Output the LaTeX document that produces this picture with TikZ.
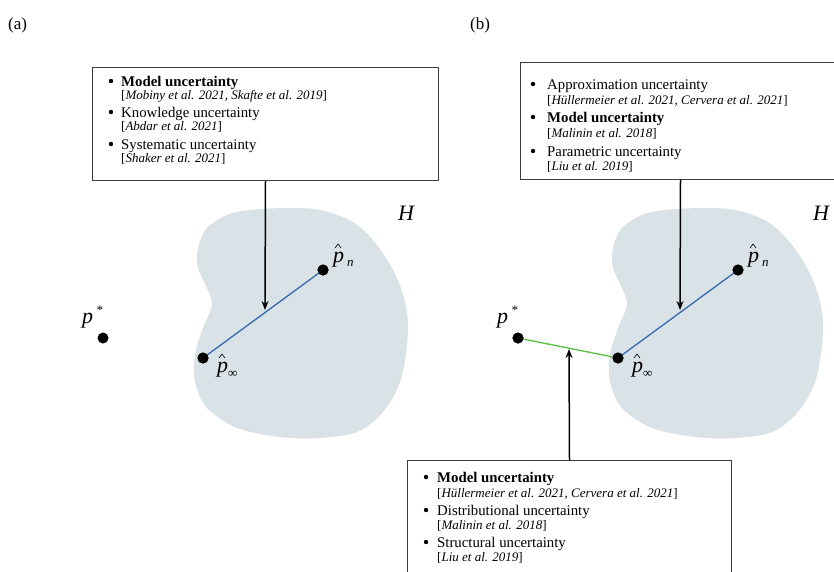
\documentclass[tikz,border=0pt]{standalone}
\usepackage{fontspec}
\setmainfont{Liberation Serif}
\usetikzlibrary{arrows.meta}
\definecolor{blobfill}{RGB}{217,226,231}
\definecolor{lineblue}{RGB}{55,105,175}
\definecolor{linegreen}{RGB}{95,190,65}
\definecolor{boxline}{RGB}{60,60,60}
\begin{document}
\begin{tikzpicture}[x=1pt,y=-1pt,
  boxnode/.style={draw=boxline, line width=1pt, fill=white, inner sep=0, anchor=north west},
  mainline/.style={anchor=base west, inner sep=0, font=\fontsize{14.8}{16}\selectfont},
  citeline/.style={anchor=base west, inner sep=0, font=\fontsize{13}{14}\selectfont},
  bul/.style={circle, fill=black, inner sep=0, minimum size=4.4pt},
  dotnode/.style={circle, fill=black, inner sep=0, minimum size=11pt},
  mathlbl/.style={anchor=base west, inner sep=0, font=\fontsize{22}{24}\selectfont\itshape},
  sublbl/.style={anchor=base west, inner sep=0, font=\fontsize{13}{14}\selectfont\itshape},
  panellbl/.style={anchor=base west, inner sep=0, font=\fontsize{17}{19}\selectfont},
  pointer/.style={-{Stealth[length=9pt,width=7pt]}, line width=1.5pt},
  hatmark/.style={line width=0.6pt},
  blob/.style={fill=blobfill, draw=none},
  blobshape/.style={},
]
\clip (0,0) rectangle (834,571);
\fill[white] (0,0) rectangle (834,571);

% panel labels
\node[panellbl] (lbla) at (8,29) {(a)};
\node[panellbl] (lblb) at (470,29) {(b)};

% blobs
\def\blobpts{(287,208) (320,210) (353,222) (377,245) (397,278) (407,312) (407,345) (400,382) (383,412) (357,432) (320,438) (280,437) (237,428) (207,408) (195,382) (195,355) (203,328) (212,305) (207,288) (198,268) (198,248) (207,228) (227,215) (250,210)}
\path[blob] plot[smooth cycle, tension=0.55] coordinates {\blobpts};
\begin{scope}[shift={(415,0)}]
\path[blob] plot[smooth cycle, tension=0.55] coordinates {\blobpts};
\end{scope}

% H labels
\node[mathlbl] (Ha) at (398,220) {H};
\node[mathlbl] (Hb) at (813,220) {H};

% ---------- panel (a) points ----------
\node[dotnode] (psa) at (103,338) {};
\node[dotnode] (pinfa) at (203,358) {};
\node[dotnode] (pna) at (323,270) {};
\draw[lineblue, line width=1.3pt] (pinfa.center) -- (pna.center);
\node[dotnode] at (pinfa) {};
\node[dotnode] at (pna) {};

\node[mathlbl] (psal) at (82,323) {p};
\node[sublbl] (psas) at (96,314) {*};
\node[mathlbl] (pnal) at (333,262) {p};
\node[sublbl] (pnas) at (347,266) {n};
\draw[hatmark] (335,248) -- (338,244) -- (341,248);
\node[mathlbl] (pinfal) at (217,372) {p};
\node[sublbl] (pinfas) at (228,377) {∞};
\draw[hatmark] (219,358) -- (222,354) -- (225,358);

% ---------- panel (b) points ----------
\node[dotnode] (psb) at (518,338) {};
\node[dotnode] (pinfb) at (618,358) {};
\node[dotnode] (pnb) at (738,270) {};
\draw[linegreen, line width=1.3pt] (psb.center) -- (pinfb.center);
\draw[lineblue, line width=1.3pt] (pinfb.center) -- (pnb.center);
\node[dotnode] at (psb) {};
\node[dotnode] at (pinfb) {};
\node[dotnode] at (pnb) {};

\node[mathlbl] (psbl) at (497,323) {p};
\node[sublbl] (psbs) at (511,314) {*};
\node[mathlbl] (pnbl) at (748,262) {p};
\node[sublbl] (pnbs) at (762,266) {n};
\draw[hatmark] (750,248) -- (753,244) -- (756,248);
\node[mathlbl] (pinfbl) at (632,372) {p};
\node[sublbl] (pinfbs) at (643,377) {∞};
\draw[hatmark] (634,358) -- (637,354) -- (640,358);

% ---------- box (a) ----------
\node[boxnode, minimum width=346pt, minimum height=113pt] (boxa) at (92,67) {};
\node[bul] (ba1) at (111,81) {};
\node[mainline] (ta1) at (121,86) {\textbf{Model uncertainty}};
\node[citeline] (ca1) at (121,99) {[\textit{Mobiny et al. 2021, Skafte et al. 2019}]};
\node[bul] (ba2) at (111,112) {};
\node[mainline] (ta2) at (121,117) {Knowledge uncertainty};
\node[citeline] (ca2) at (121,130) {[\textit{Abdar et al. 2021}]};
\node[bul] (ba3) at (111,144) {};
\node[mainline] (ta3) at (121,149) {Systematic uncertainty};
\node[citeline] (ca3) at (121,162) {[\textit{Shaker et al. 2021}]};

% ---------- box (b) top ----------
\node[boxnode, minimum width=320pt, minimum height=117pt] (boxb) at (520,62) {};
\node[bul] (bb1) at (533,84) {};
\node[mainline] (tb1) at (547,89) {Approximation uncertainty};
\node[citeline] (cb1) at (547,104) {[\textit{Hüllermeier et al. 2021, Cervera et al. 2021}]};
\node[bul] (bb2) at (533,117) {};
\node[mainline] (tb2) at (547,122) {\textbf{Model uncertainty}};
\node[citeline] (cb2) at (547,137) {[\textit{Malinin et al. 2018}]};
\node[bul] (bb3) at (533,151) {};
\node[mainline] (tb3) at (547,156) {Parametric uncertainty};
\node[citeline] (cb3) at (547,170) {[\textit{Liu et al. 2019}]};

% ---------- box (b) bottom ----------
\node[boxnode, minimum width=324pt, minimum height=140pt] (boxc) at (407,460) {};
\node[bul] (bc1) at (426,477) {};
\node[mainline] (tc1) at (437,482) {\textbf{Model uncertainty}};
\node[citeline] (cc1) at (437,497) {[\textit{Hüllermeier et al. 2021, Cervera et al. 2021}]};
\node[bul] (bc2) at (426,510) {};
\node[mainline] (tc2) at (437,515) {Distributional uncertainty};
\node[citeline] (cc2) at (437,529) {[\textit{Malinin et al. 2018}]};
\node[bul] (bc3) at (426,542) {};
\node[mainline] (tc3) at (437,547) {Structural uncertainty};
\node[citeline] (cc3) at (437,561) {[\textit{Liu et al. 2019}]};

% ---------- arrows ----------
\coordinate (tipa) at (265,310);
\coordinate (tipb) at (680,310);
\coordinate (tipc) at (569,349);
\draw[pointer] (boxa.south) -- (tipa);
\draw[pointer] (boxb.south) -- (tipb);
\draw[pointer] (boxc.north) -- (tipc);
\end{tikzpicture}
\end{document}
